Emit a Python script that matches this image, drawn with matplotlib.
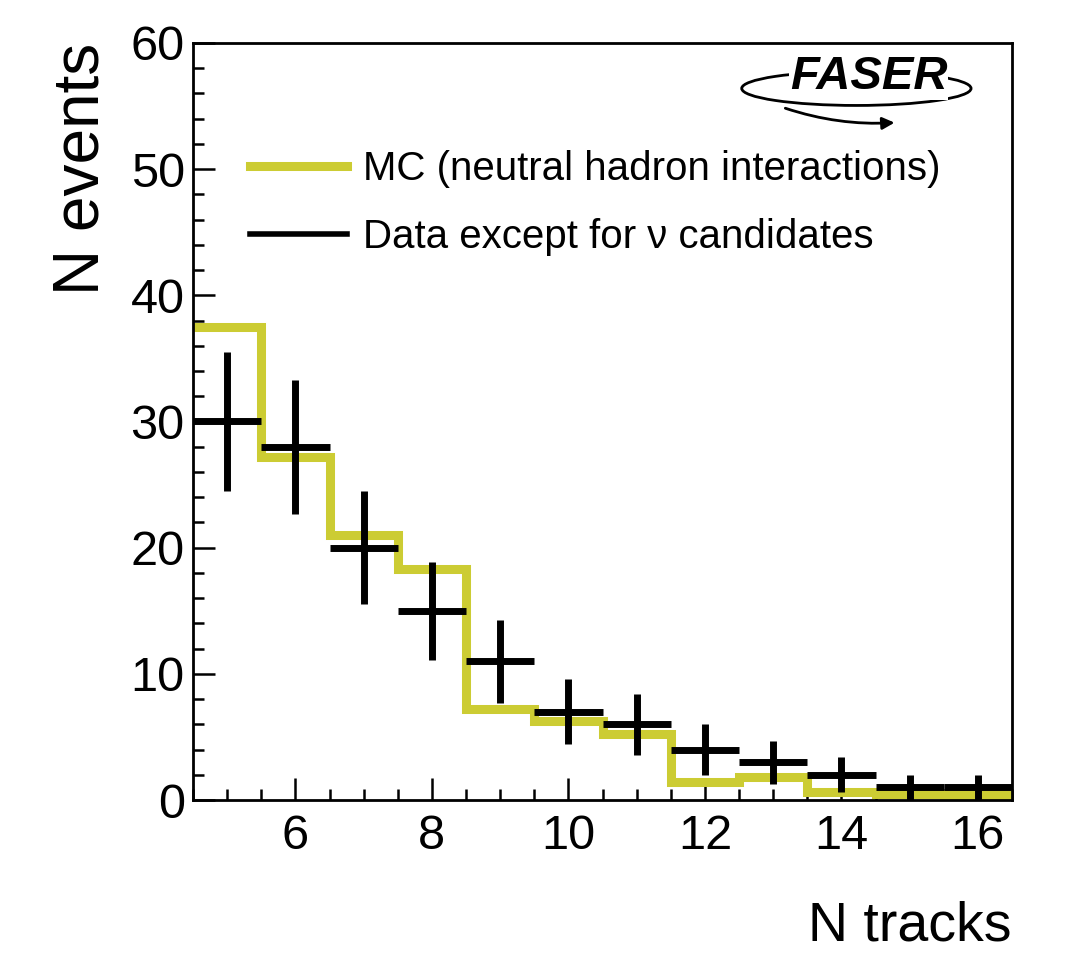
import numpy as np
import matplotlib
matplotlib.use("Agg")
import matplotlib.pyplot as plt
from matplotlib.lines import Line2D
from matplotlib.patches import Ellipse, FancyArrowPatch
from matplotlib.ticker import MultipleLocator

plt.rcParams["font.family"] = ["Liberation Sans", "DejaVu Sans"]

# binning (number of tracks)
n_tracks = [5, 6, 7, 8, 9, 10, 11, 12, 13, 14, 15, 16]
bin_edges = [4.5, 5.5, 6.5, 7.5, 8.5, 9.5, 10.5, 11.5, 12.5, 13.5, 14.5, 15.5, 16.5]

# MC (neutral hadron interactions)
mc_counts = [37.5, 27.2, 21.0, 18.3, 7.2, 6.3, 5.2, 1.4, 1.8, 0.65, 0.5, 0.4]

# data except for nu candidates
data_counts = [30, 28, 20, 15, 11, 7, 6, 4, 3, 2, 1, 1]
data_err = [5.5, 5.3, 4.5, 3.9, 3.3, 2.6, 2.4, 2.0, 1.7, 1.4, 1.0, 1.0]

mc_color = "#cccc33"

W, H = 1074, 963
fig = plt.figure(figsize=(W / 100, H / 100), dpi=100)
ax = fig.add_axes([193 / W, (H - 800) / H, (1012 - 193) / W, (800 - 43) / H])

ax.stairs(mc_counts, bin_edges, color=mc_color, linewidth=6.5,
          baseline=None, zorder=2)
ax.errorbar(n_tracks, data_counts, xerr=0.5, yerr=data_err, fmt="none",
            ecolor="black", elinewidth=5.0, capsize=0, zorder=3)

ax.set_xlim(4.5, 16.5)
ax.set_ylim(0, 60)
ax.xaxis.set_major_locator(MultipleLocator(2))
ax.xaxis.set_minor_locator(MultipleLocator(0.5))
ax.yaxis.set_major_locator(MultipleLocator(10))
ax.yaxis.set_minor_locator(MultipleLocator(2))
ax.tick_params(which="both", direction="in", top=False, right=False,
               width=1.8, labelsize=35)
ax.tick_params(which="major", length=16)
ax.tick_params(which="minor", length=8)
ax.tick_params(axis="x", pad=10)
ax.tick_params(axis="y", pad=6)
for s in ax.spines.values():
    s.set_linewidth(2.0)

ax.set_xlabel("N tracks", fontsize=40, loc="right", labelpad=30)
ax.set_ylabel("N events", fontsize=46, loc="top", labelpad=14)

handles = [
    Line2D([], [], color=mc_color, linewidth=6.5),
    Line2D([], [], color="black", linewidth=4.0),
]
ax.legend(handles, ["MC (neutral hadron interactions)",
                    "Data except for \u03bd candidates"],
          loc="upper left", bbox_to_anchor=(0.05, 0.88), frameon=False,
          fontsize=29, handlelength=2.4, handletextpad=0.4,
          labelspacing=0.75, borderaxespad=0)

# FASER logo (approximation)
ax.add_patch(Ellipse((0.81, 0.94), 0.28, 0.045, transform=ax.transAxes,
                     fill=False, edgecolor="black", linewidth=2.0))
ax.text(0.825, 0.955, "FASER", transform=ax.transAxes, fontsize=34,
        fontweight="bold", style="italic", ha="center", va="center",
        zorder=5, bbox=dict(facecolor="white", edgecolor="none", pad=0.3))
ax.add_patch(FancyArrowPatch((0.72, 0.915), (0.86, 0.895),
                             transform=ax.transAxes, arrowstyle="-|>",
                             mutation_scale=18, color="black", linewidth=2.0,
                             connectionstyle="arc3,rad=0.1"))

fig.savefig("out.png", dpi=100, facecolor="white")
